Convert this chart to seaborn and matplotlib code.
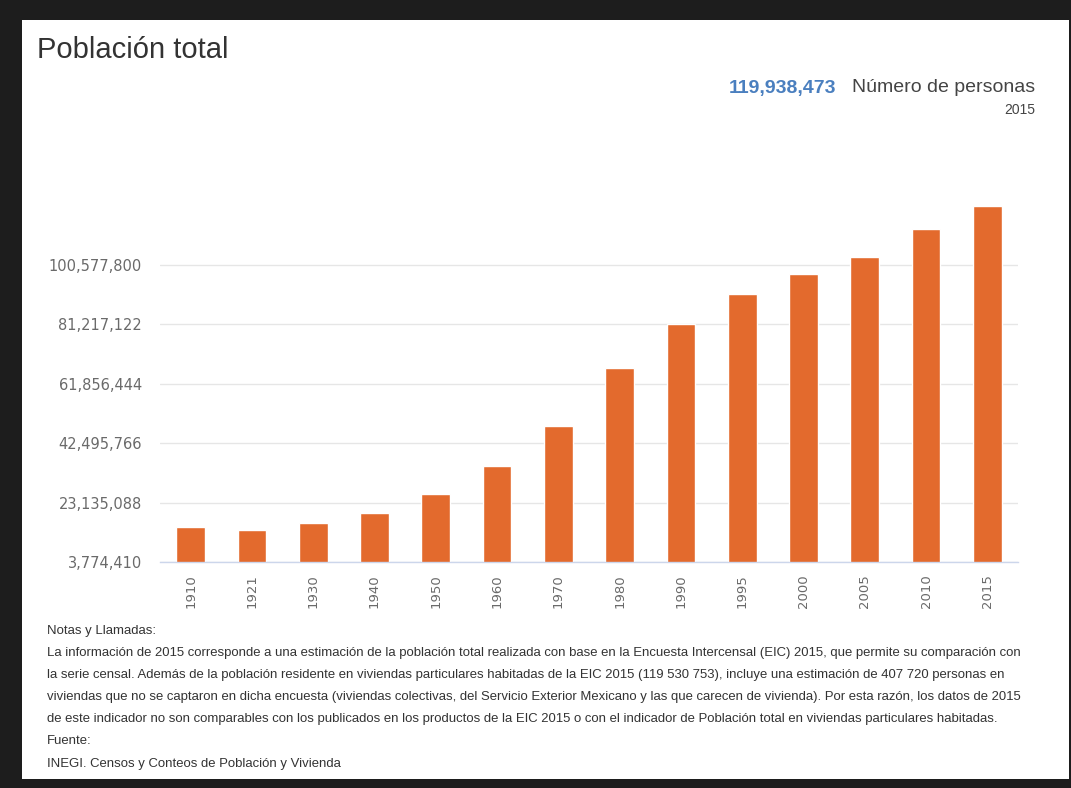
import matplotlib
matplotlib.use("Agg")
import matplotlib.pyplot as plt
import seaborn as sns
from matplotlib.patches import Rectangle

# Datos (INEGI, población total)
anios = ['1910', '1921', '1930', '1940', '1950', '1960', '1970',
         '1980', '1990', '1995', '2000', '2005', '2010', '2015']
poblacion = [15160369, 14334780, 16552722, 19653552, 25791017, 34923129, 48225238,
             66846833, 81249645, 91158290, 97483412, 103263388, 112336538, 119938473]
ticks_y = [3774410, 23135088, 42495766, 61856444, 81217122, 100577800]
etiquetas_y = ['3,774,410', '23,135,088', '42,495,766', '61,856,444', '81,217,122', '100,577,800']

titulo = 'Población total'
valor_destacado = '119,938,473'
unidad = 'Número de personas'
anio_destacado = '2015'
notas = [
    'Notas y Llamadas:',
    'La información de 2015 corresponde a una estimación de la población total realizada con base en la Encuesta Intercensal (EIC) 2015, que permite su comparación con',
    'la serie censal. Además de la población residente en viviendas particulares habitadas de la EIC 2015 (119 530 753), incluye una estimación de 407 720 personas en',
    'viviendas que no se captaron en dicha encuesta (viviendas colectivas, del Servicio Exterior Mexicano y las que carecen de vivienda). Por esta razón, los datos de 2015',
    'de este indicador no son comparables con los publicados en los productos de la EIC 2015 o con el indicador de Población total en viviendas particulares habitadas.',
    'Fuente:',
    'INEGI. Censos y Conteos de Población y Vivienda',
    'INEGI. Encuesta Intercensal 2015.',
]

W, H = 1071, 788
sns.set_style('white')
plt.rcParams['font.family'] = ['Liberation Sans', 'DejaVu Sans']

fig = plt.figure(figsize=(W / 100, H / 100), dpi=100, facecolor='#1d1d1d')

# panel blanco (captura de pantalla con marco oscuro)
panel = Rectangle((22 / W, 1 - 779 / H), (1069 - 22) / W, (779 - 20) / H,
                  transform=fig.transFigure, facecolor='white', edgecolor='none', zorder=-5)
fig.patches.append(panel)

ax = fig.add_axes([160 / W, 1 - 562 / H, (1018 - 160) / W, (562 - 200) / H])
ax.set_facecolor('none')
sns.barplot(x=anios, y=poblacion, color='#E36A2D', width=0.47, saturation=1, ax=ax)

ax.set_xlim(-0.5, len(anios) - 0.5)
ax.set_ylim(ticks_y[0], ticks_y[0] + (ticks_y[1] - ticks_y[0]) * 6.094)
ax.set_yticks(ticks_y)
ax.set_yticklabels(etiquetas_y, family='DejaVu Sans', fontsize=10.5, color='#6a6a6a')
ax.yaxis.grid(True, color='#e6e6e6', linewidth=1)
ax.set_axisbelow(True)

ax.set_xticks(range(len(anios)))
ax.set_xticklabels(anios, rotation=90, family='DejaVu Sans', fontsize=9.5, color='#6a6a6a')
ax.set_xticks([i - 0.5 for i in range(len(anios) + 1)], minor=True)
ax.tick_params(axis='x', which='major', length=0, pad=9)
ax.tick_params(axis='x', which='minor', length=10, width=1, color='#ccd6eb')
ax.tick_params(axis='y', length=0, pad=13)

for lado in ['top', 'right', 'left']:
    ax.spines[lado].set_visible(False)
ax.spines['bottom'].set_color('#ccd6eb')
ax.spines['bottom'].set_linewidth(1)
ax.set_xlabel('')
ax.set_ylabel('')

# textos de encabezado
fig.text(37 / W, 1 - 50 / H, titulo, fontsize=21, color='#333333', va='center', ha='left')
fig.text(1035 / W, 1 - 88 / H, unidad, fontsize=14, color='#444444', va='center', ha='right')
fig.text(836 / W, 1 - 88 / H, valor_destacado, fontsize=14, color='#4A7FBF',
         fontweight='bold', va='center', ha='right')
fig.text(1035 / W, 1 - 110 / H, anio_destacado, fontsize=10, color='#444444', va='center', ha='right')

# notas al pie (la última línea queda cortada por el marco, como en la captura)
for i, linea in enumerate(notas):
    t = fig.text(47 / W, 1 - (631 + i * 22.1) / H, linea, fontsize=9.45, color='#333333',
                 va='center', ha='left')
    t.set_clip_path(panel)

fig.savefig('out.png', dpi=100, facecolor=fig.get_facecolor())
